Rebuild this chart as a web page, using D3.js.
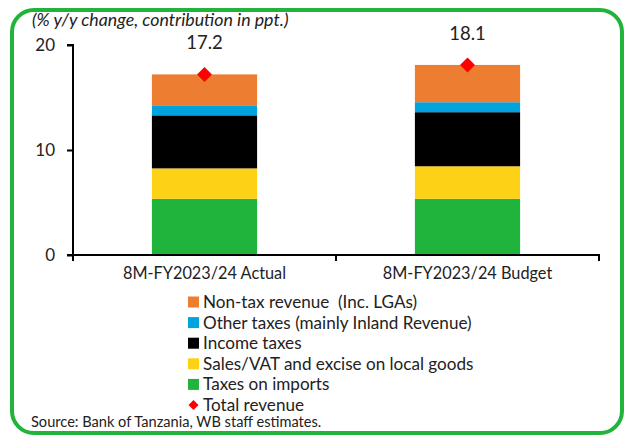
<!DOCTYPE html>
<html><head><meta charset="utf-8">
<script src="https://cdn.jsdelivr.net/npm/d3@7"></script>
<style>body{margin:0;background:#fff}svg{display:block}text{font-family:Lato,"Open Sans",sans-serif;fill:#222;white-space:pre}</style>
</head><body><svg id="c" width="626" height="436"></svg>
<script>
const categories = ["8M-FY2023/24 Actual", "8M-FY2023/24 Budget"];
const seriesNames = ["Taxes on imports", "Sales/VAT and excise on local goods", "Income taxes", "Other taxes (mainly Inland Revenue)", "Non-tax revenue  (Inc. LGAs)"];
const taxesOnImports = [5.35, 5.35];
const salesVat = [2.9, 3.1];
const incomeTaxes = [5.05, 5.15];
const otherTaxes = [0.9, 0.95];
const nonTax = [3.0, 3.55];
const totalRevenue = [17.2, 18.1];
const totalLabels = ["17.2", "18.1"];
const yTicks = [0, 10, 20];
const colors = ["#21b43c", "#fcd116", "#000000", "#00a3dd", "#ed7d31"];

const svg = d3.select("#c");
svg.append("rect").attr("x",12).attr("y",10).attr("width",610).attr("height",423)
  .attr("rx",22).attr("fill","none").attr("stroke","#22b33a").attr("stroke-width",4);

const x = d3.scaleBand().domain(categories).range([73, 599]).paddingInner(0.6).paddingOuter(0.3);
const y = d3.scaleLinear().domain([0, 20]).range([255, 45]);

const series = [taxesOnImports, salesVat, incomeTaxes, otherTaxes, nonTax];
const rows = categories.map((c, i) => {
  const o = {cat: c};
  seriesNames.forEach((n, k) => o[n] = series[k][i]);
  return o;
});
const stacked = d3.stack().keys(seriesNames)(rows);
stacked.forEach((s, k) => {
  svg.append("g").selectAll("rect").data(s).join("rect")
    .attr("x", d => x(d.data.cat)).attr("width", x.bandwidth())
    .attr("y", d => y(d[1])).attr("height", d => y(d[0]) - y(d[1]))
    .attr("fill", colors[k]);
});

// axes
const ya = svg.append("g").attr("transform","translate(73,0)")
  .call(d3.axisLeft(y).tickValues(yTicks).tickSize(6).tickPadding(12));
ya.select(".domain").attr("stroke","#000").attr("stroke-width",2).attr("d","M-6,45H0V255H-6");
ya.selectAll(".tick line").attr("stroke","#000").attr("stroke-width",2);
ya.selectAll(".tick text").style("font-size","17px").attr("fill","#333").style("font-family","Lato,sans-serif");

const xa = svg.append("g").attr("transform","translate(0,255)")
  .call(d3.axisBottom(x).tickSize(0).tickPadding(12));
xa.select(".domain").attr("stroke","#000").attr("stroke-width",2).attr("d","M73,6V0H599V6");
xa.selectAll(".tick text").style("font-size","16.3px").attr("fill","#222").style("font-family","Lato,sans-serif");
const mid = (x(categories[0]) + x.bandwidth() + x(categories[1])) / 2;
svg.append("line").attr("x1",mid).attr("x2",mid).attr("y1",255).attr("y2",261).attr("stroke","#000").attr("stroke-width",2);

// total markers
svg.append("g").selectAll("path").data(totalRevenue).join("path")
  .attr("transform",(d,i)=>`translate(${x(categories[i])+x.bandwidth()/2},${y(d)}) rotate(45)`)
  .attr("d", d3.symbol().type(d3.symbolSquare).size(112)).attr("fill","#ff0000");
svg.append("g").selectAll("text").data(totalRevenue).join("text")
  .attr("x",(d,i)=>x(categories[i])+x.bandwidth()/2).attr("y",d=>y(d)-25)
  .attr("text-anchor","middle").style("font-size","18.5px").text((d,i)=>totalLabels[i]);

// title
svg.append("text").attr("x",32).attr("y",26).style("font-size","17.8px").style("font-style","italic")
  .text("(% y/y change, contribution in ppt.)");

// legend
const legendItems = [
  {name: seriesNames[4], color: colors[4]},
  {name: seriesNames[3], color: colors[3]},
  {name: seriesNames[2], color: colors[2]},
  {name: seriesNames[1], color: colors[1]},
  {name: seriesNames[0], color: colors[0]},
];
const lg = svg.append("g");
legendItems.forEach((d, i) => {
  const yy = 302 + i * 20.6;
  lg.append("rect").attr("x",188).attr("y",yy-5.5).attr("width",11).attr("height",11).attr("fill",d.color);
  lg.append("text").attr("x",203).attr("y",yy+6).style("font-size","17.1px").text(d.name);
});
const ty = 302 + 5 * 20.6;
lg.append("path").attr("transform",`translate(193.5,${ty}) rotate(45)`)
  .attr("d", d3.symbol().type(d3.symbolSquare).size(50)).attr("fill","#ff0000");
lg.append("text").attr("x",203).attr("y",ty+6).style("font-size","17.1px").text("Total revenue");

svg.append("text").attr("x",31).attr("y",427).style("font-size","14.6px").text("Source: Bank of Tanzania, WB staff estimates.");
</script></body></html>
